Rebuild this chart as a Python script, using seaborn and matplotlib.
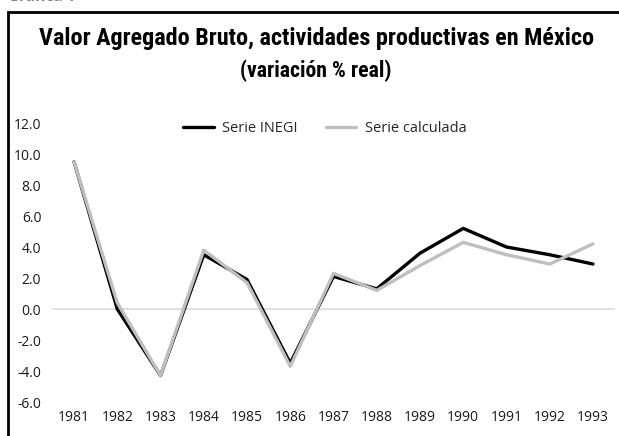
import matplotlib
matplotlib.use("Agg")
import matplotlib.pyplot as plt
import matplotlib.patches as mpatches
import matplotlib.font_manager as fm
import pandas as pd
import seaborn as sns

# --- data ---
years = ["1981", "1982", "1983", "1984", "1985", "1986", "1987",
         "1988", "1989", "1990", "1991", "1992", "1993"]
serie_inegi = [9.5, 0.0, -4.3, 3.5, 1.9, -3.5, 2.1, 1.3, 3.6, 5.2, 4.0, 3.5, 2.9]
serie_calculada = [9.5, 0.4, -4.3, 3.8, 1.7, -3.7, 2.3, 1.2, 2.8, 4.3, 3.5, 2.9, 4.2]
y_ticks = [-6, -4, -2, 0, 2, 4, 6, 8, 10, 12]

TITLE = "Valor Agregado Bruto, actividades productivas en México"
SUBTITLE = "(variación % real)"
LABEL_INEGI = "Serie INEGI"
LABEL_CALC = "Serie calculada"

COLORS = {"inegi": "#000000", "calc": "#bfbfbf", "zero": "#d9d9d9", "text": "#1a1a1a"}

sns.set_theme(style="white")
plt.rcParams["font.family"] = ["Open Sans", "DejaVu Sans"]

# narrow bold face for the title if one is around, Roboto otherwise
names = {f.name for f in fm.fontManager.ttflist}
title_font = "Roboto"
for cand in ["Liberation Sans Narrow", "Roboto Condensed", "Open Sans Condensed"]:
    if cand in names:
        title_font = cand
        break
narrow = title_font != "Roboto"
title_size = 17.4 if narrow else 15.5
sub_size = 15.7 if narrow else 15

df = pd.DataFrame({
    "year": years * 2,
    "value": serie_inegi + serie_calculada,
    "serie": [LABEL_INEGI] * len(years) + [LABEL_CALC] * len(years),
})

W, H = 619, 436
fig = plt.figure(figsize=(W / 100, H / 100), dpi=100)
ax = fig.add_axes([52.4 / W, (H - 402) / H, (614.6 - 52.4) / W, (402 - 123) / H])

sns.lineplot(data=df, x="year", y="value", hue="serie", sort=False,
             palette={LABEL_INEGI: COLORS["inegi"], LABEL_CALC: COLORS["calc"]},
             linewidth=2.4, ax=ax)

ax.axhline(0, color=COLORS["zero"], linewidth=1.1, zorder=0)
ax.set_xlim(-0.5, len(years) - 0.5)
ax.set_ylim(-6, 12)
ax.set_yticks(y_ticks)
ax.set_yticklabels([f"{v:.1f}" for v in y_ticks])
ax.set_xlabel("")
ax.set_ylabel("")
ax.tick_params(axis="both", length=0, labelsize=10, colors=COLORS["text"])
ax.tick_params(axis="y", pad=8)
ax.tick_params(axis="x", pad=6)
for spine in ax.spines.values():
    spine.set_visible(False)

leg = ax.legend(loc="center left", bbox_to_anchor=(183 / W, 1 - 129 / H),
                bbox_transform=fig.transFigure, ncol=2, frameon=False,
                fontsize=10.5, handlelength=2.1, handletextpad=0.6,
                columnspacing=1.9, borderpad=0, borderaxespad=0)
for line in leg.get_lines():
    line.set_linewidth(2.4)

fig.text(317 / W, 1 - 39 / H, TITLE, ha="center", va="center",
         fontsize=title_size, fontweight="bold", family=title_font, color="black")
fig.text(316 / W, 1 - 71 / H, SUBTITLE, ha="center", va="center",
         fontsize=sub_size, fontweight="bold", family=title_font, color="black")

# page label, cut off by the top edge like in the source scan
fig.text(8 / W, 1 - 4 / H, "Gráfica 1", ha="left", va="bottom",
         fontsize=11, fontweight="bold", color="#808080")

# outer frame
fig.patches.append(mpatches.Rectangle((7.5 / W, -0.05), 1.2, 1 - 11.5 / H + 0.05,
                                      transform=fig.transFigure, fill=False,
                                      edgecolor="black", linewidth=2))

fig.savefig("out.png", dpi=100)
